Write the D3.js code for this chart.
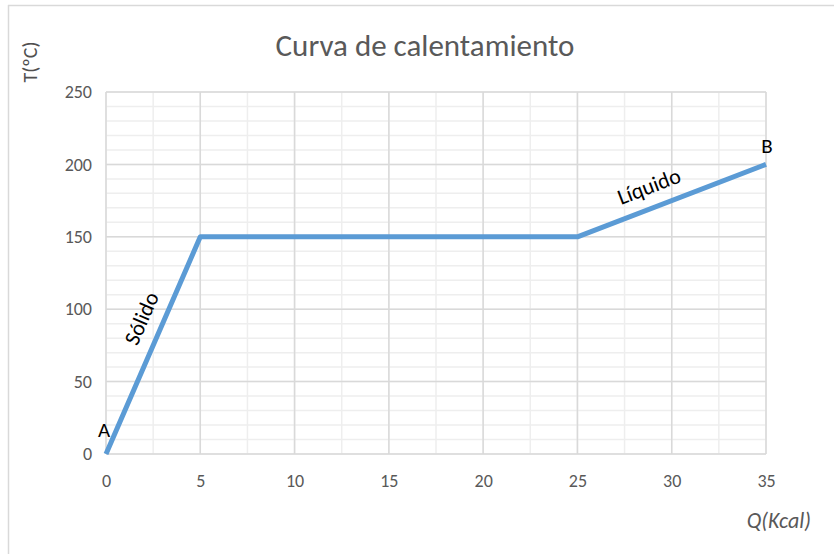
<!DOCTYPE html>
<html>
<head>
<meta charset="utf-8">
<script src="https://cdn.jsdelivr.net/npm/d3@7"></script>
<style>
  body { margin: 0; background: #fff; }
  text { font-family: Calibri, Carlito, Lato, sans-serif; }
</style>
</head>
<body>
<div id="chart"></div>
<script>
// data
const heatQ = [0, 5, 25, 35];
const tempT = [0, 150, 150, 200];
const xTicks = [0, 5, 10, 15, 20, 25, 30, 35];
const yTicks = [0, 50, 100, 150, 200, 250];
const pointLabels = [{text: "A", q: 0, t: 0}, {text: "B", q: 35, t: 200}];
const phaseLabels = [{text: "Sólido", from: 0, to: 1}, {text: "Líquido", from: 2, to: 3}];

const width = 834, height = 554;
const margin = {top: 92, right: 68, bottom: 100, left: 106};

const svg = d3.select("#chart").append("svg")
    .attr("width", width)
    .attr("height", height);

// outer frame (only top + left visible in the picture)
svg.append("line").attr("x1", 8).attr("x2", width).attr("y1", 5.5).attr("y2", 5.5)
    .attr("stroke", "#d9d9d9").attr("stroke-width", 1.5);
svg.append("line").attr("x1", 8.5).attr("x2", 8.5).attr("y1", 5).attr("y2", height)
    .attr("stroke", "#d9d9d9").attr("stroke-width", 1.5);

const x = d3.scaleLinear().domain([0, 35]).range([margin.left, width - margin.right]);
const y = d3.scaleLinear().domain([0, 250]).range([height - margin.bottom, margin.top]);

// minor grid
const g = svg.append("g");
g.selectAll(".minorX").data(d3.range(0, 35.01, 2.5)).enter().append("line")
    .attr("x1", d => x(d)).attr("x2", d => x(d))
    .attr("y1", y(0)).attr("y2", y(250))
    .attr("stroke", "#eeeeee").attr("stroke-width", 1.5);
g.selectAll(".minorY").data(d3.range(0, 250.01, 10)).enter().append("line")
    .attr("x1", x(0)).attr("x2", x(35))
    .attr("y1", d => y(d)).attr("y2", d => y(d))
    .attr("stroke", "#eeeeee").attr("stroke-width", 1.5);
// major grid
g.selectAll(".majorX").data(xTicks).enter().append("line")
    .attr("x1", d => x(d)).attr("x2", d => x(d))
    .attr("y1", y(0)).attr("y2", y(250))
    .attr("stroke", "#d9d9d9").attr("stroke-width", 1.5);
g.selectAll(".majorY").data(yTicks).enter().append("line")
    .attr("x1", x(0)).attr("x2", x(35))
    .attr("y1", d => y(d)).attr("y2", d => y(d))
    .attr("stroke", "#d9d9d9").attr("stroke-width", 1.5);

// axes (labels only)
const xAxis = svg.append("g")
    .attr("transform", `translate(0,${y(0)})`)
    .call(d3.axisBottom(x).tickValues(xTicks).tickSize(0).tickPadding(20));
const yAxis = svg.append("g")
    .attr("transform", `translate(${x(0)},0)`)
    .call(d3.axisLeft(y).tickValues(yTicks).tickSize(0).tickPadding(14));
[xAxis, yAxis].forEach(a => {
    a.select(".domain").remove();
    a.selectAll("text").attr("fill", "#595959").style("font-size", "18px")
        .style("font-family", "Calibri, Carlito, Lato, sans-serif");
});

// curve
svg.append("path")
    .datum(heatQ.map((q, i) => [q, tempT[i]]))
    .attr("fill", "none")
    .attr("stroke", "#5b9bd5")
    .attr("stroke-width", 5)
    .attr("stroke-linejoin", "round")
    .attr("d", d3.line().x(d => x(d[0])).y(d => y(d[1])));

// title
svg.append("text")
    .attr("x", 425).attr("y", 56)
    .attr("text-anchor", "middle")
    .attr("fill", "#595959")
    .style("font-size", "31px")
    .text("Curva de calentamiento");

// axis titles
svg.append("text")
    .attr("transform", "translate(37,62) rotate(-90)")
    .attr("text-anchor", "middle")
    .attr("fill", "#505050")
    .style("font-size", "20px")
    .text("T(ºC)");
svg.append("text")
    .attr("x", 811).attr("y", 528)
    .attr("text-anchor", "end")
    .attr("fill", "#595959")
    .style("font-size", "22px")
    .style("font-style", "italic")
    .text("Q(Kcal)");

// point labels
svg.selectAll(".pt").data(pointLabels).enter().append("text")
    .attr("x", d => x(d.q) + (d.q === 0 ? -2 : 1))
    .attr("y", d => y(d.t) - (d.t === 0 ? 17 : 11))
    .attr("text-anchor", "middle")
    .attr("fill", "#000")
    .style("font-size", "21px")
    .text(d => d.text);

// phase labels along the segments (position fraction + offset above the line)
const along = {"Sólido": 0.585, "Líquido": 0.42};
svg.selectAll(".phase").data(phaseLabels).enter().append("text")
    .attr("transform", d => {
        const x0 = x(heatQ[d.from]), y0 = y(tempT[d.from]);
        const x1 = x(heatQ[d.to]), y1 = y(tempT[d.to]);
        const a = Math.atan2(y1 - y0, x1 - x0);
        const f = along[d.text];
        const px = x0 + (x1 - x0) * f + Math.sin(a) * 14;
        const py = y0 + (y1 - y0) * f - Math.cos(a) * 14;
        return `translate(${px},${py}) rotate(${a * 180 / Math.PI})`;
    })
    .attr("text-anchor", "middle")
    .attr("fill", "#000")
    .style("font-size", "22px")
    .text(d => d.text);
</script>
</body>
</html>
